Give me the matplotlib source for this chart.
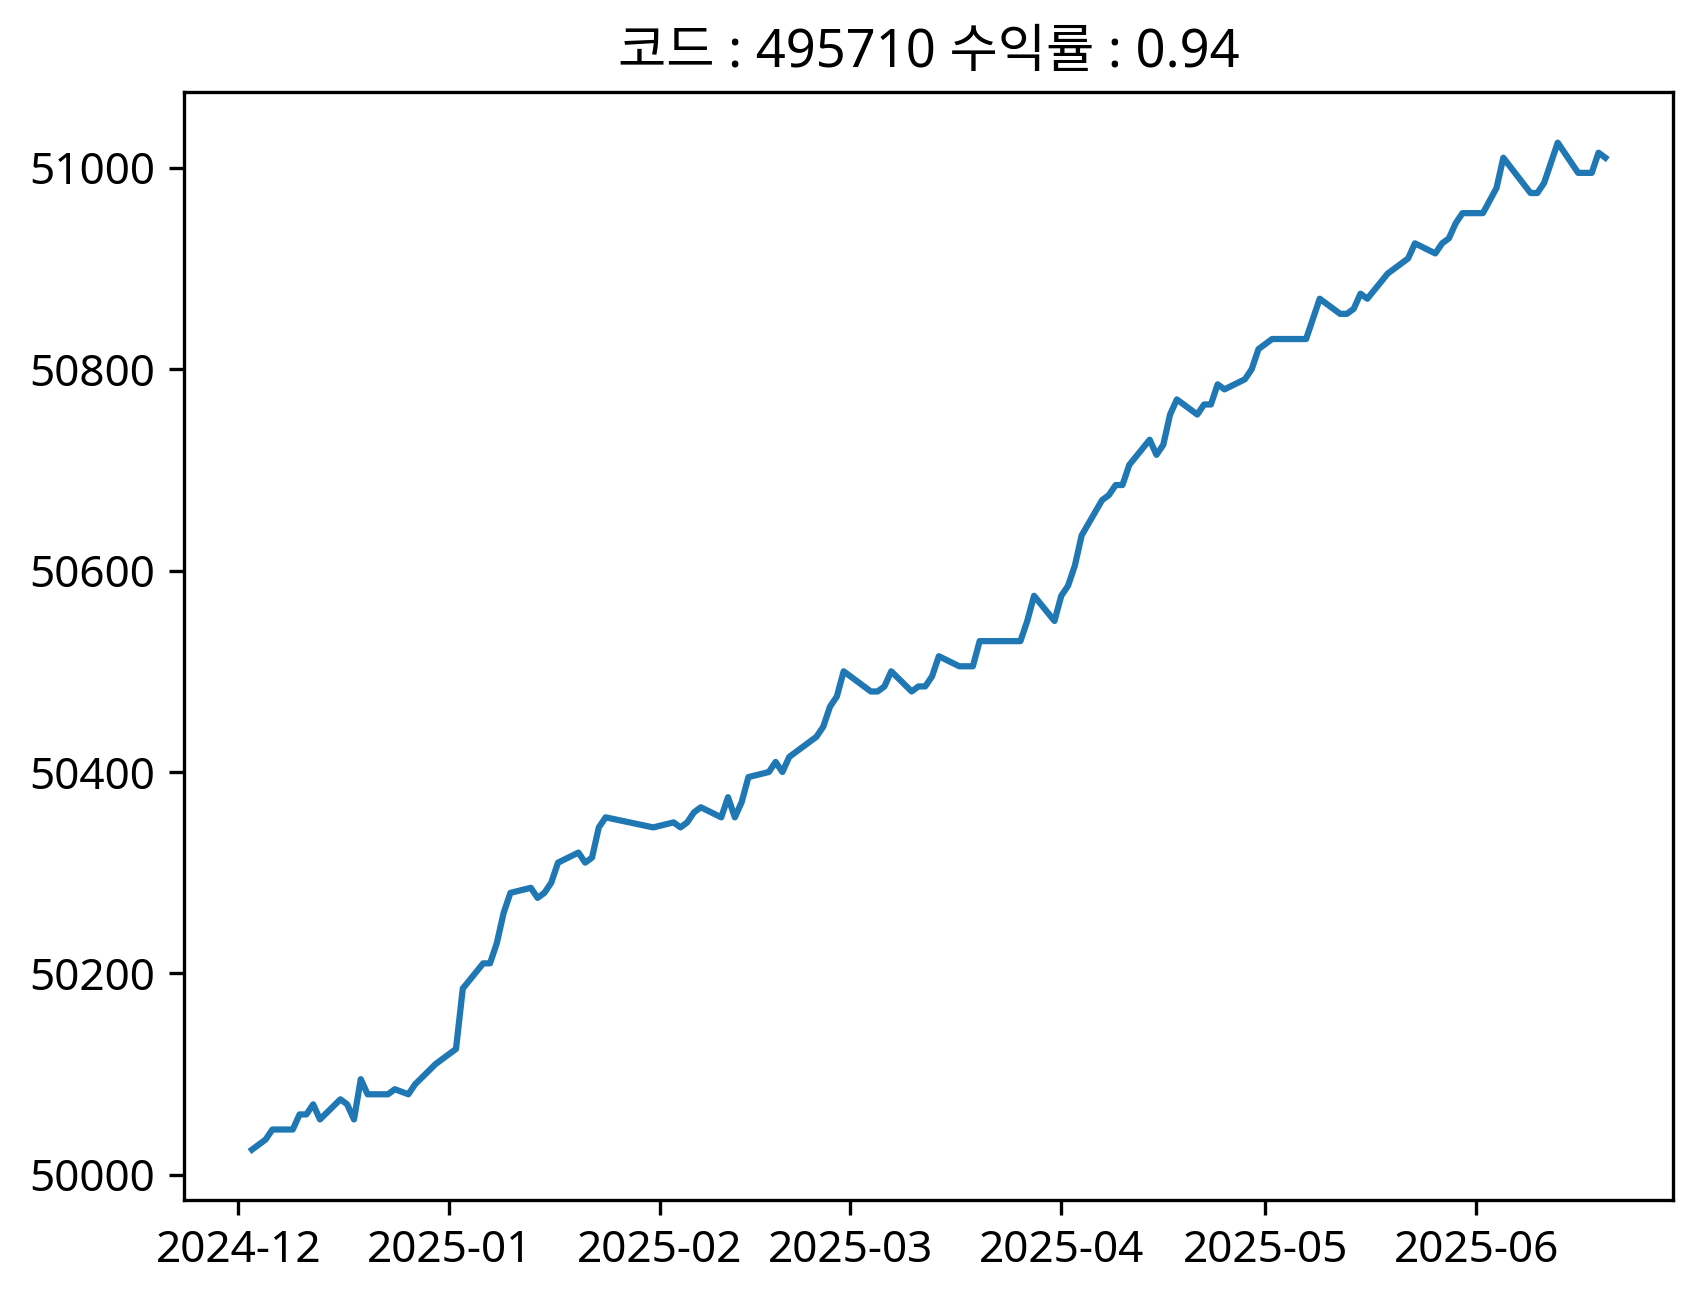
import numpy as np
import matplotlib
matplotlib.use("Agg")
import matplotlib.pyplot as plt
import matplotlib.dates as mdates

plt.rcParams['font.family'] = ['Noto Sans', 'Noto Sans CJK KR', 'DejaVu Sans']
plt.rcParams['xtick.labelsize'] = 10.6
plt.rcParams['ytick.labelsize'] = 10.6

CODE = "495710"
RET = 0.94

# trading days and price
dates = [
    "2024-12-03", "2024-12-04", "2024-12-05", "2024-12-06", "2024-12-09", "2024-12-10",
    "2024-12-11", "2024-12-12", "2024-12-13", "2024-12-16", "2024-12-17", "2024-12-18",
    "2024-12-19", "2024-12-20", "2024-12-23", "2024-12-24", "2024-12-26", "2024-12-27",
    "2024-12-30",
    "2025-01-02", "2025-01-03", "2025-01-06", "2025-01-07", "2025-01-08", "2025-01-09",
    "2025-01-10", "2025-01-13", "2025-01-14", "2025-01-15", "2025-01-16", "2025-01-17",
    "2025-01-20", "2025-01-21", "2025-01-22", "2025-01-23", "2025-01-24", "2025-01-31",
    "2025-02-03", "2025-02-04", "2025-02-05", "2025-02-06", "2025-02-07", "2025-02-10",
    "2025-02-11", "2025-02-12", "2025-02-13", "2025-02-14", "2025-02-17", "2025-02-18",
    "2025-02-19", "2025-02-20", "2025-02-21", "2025-02-24", "2025-02-25", "2025-02-26",
    "2025-02-27", "2025-02-28",
    "2025-03-04", "2025-03-05", "2025-03-06", "2025-03-07", "2025-03-10", "2025-03-11",
    "2025-03-12", "2025-03-13", "2025-03-14", "2025-03-17", "2025-03-18", "2025-03-19",
    "2025-03-20", "2025-03-21", "2025-03-24", "2025-03-25", "2025-03-26", "2025-03-27",
    "2025-03-28", "2025-03-31",
    "2025-04-01", "2025-04-02", "2025-04-03", "2025-04-04", "2025-04-07", "2025-04-08",
    "2025-04-09", "2025-04-10", "2025-04-11", "2025-04-14", "2025-04-15", "2025-04-16",
    "2025-04-17", "2025-04-18", "2025-04-21", "2025-04-22", "2025-04-23", "2025-04-24",
    "2025-04-25", "2025-04-28", "2025-04-29", "2025-04-30",
    "2025-05-02", "2025-05-07", "2025-05-08", "2025-05-09", "2025-05-12", "2025-05-13",
    "2025-05-14", "2025-05-15", "2025-05-16", "2025-05-19", "2025-05-20", "2025-05-21",
    "2025-05-22", "2025-05-23", "2025-05-26", "2025-05-27", "2025-05-28", "2025-05-29",
    "2025-05-30",
    "2025-06-02", "2025-06-04", "2025-06-05", "2025-06-09", "2025-06-10", "2025-06-11",
    "2025-06-12", "2025-06-13", "2025-06-16", "2025-06-17", "2025-06-18", "2025-06-19",
    "2025-06-20",
]
prices = [
    50025, 50030, 50035, 50045, 50045, 50060,
    50060, 50070, 50055, 50075, 50070, 50055,
    50095, 50080, 50080, 50085, 50080, 50090,
    50110,
    50125, 50185, 50210, 50210, 50230, 50260,
    50280, 50285, 50275, 50280, 50290, 50310,
    50320, 50310, 50315, 50345, 50355, 50345,
    50350, 50345, 50350, 50360, 50365, 50355,
    50375, 50355, 50370, 50395, 50400, 50410,
    50400, 50415, 50420, 50435, 50445, 50465,
    50475, 50500,
    50480, 50480, 50485, 50500, 50480, 50485,
    50485, 50495, 50515, 50505, 50505, 50505,
    50530, 50530, 50530, 50530, 50530, 50550,
    50575, 50550,
    50575, 50585, 50605, 50635, 50670, 50675,
    50685, 50685, 50705, 50730, 50715, 50725,
    50755, 50770, 50755, 50765, 50765, 50785,
    50780, 50790, 50800, 50820,
    50830, 50830, 50850, 50870, 50855, 50855,
    50860, 50875, 50870, 50895, 50900, 50905,
    50910, 50925, 50915, 50925, 50930, 50945,
    50955,
    50955, 50980, 51010, 50975, 50975, 50985,
    51005, 51025, 50995, 50995, 50995, 51015,
    51010,
]

x = np.array(dates, dtype="datetime64[D]")
y = np.array(prices)

W, H = 1703, 1300
fig = plt.figure(figsize=(W / 300, H / 300), dpi=300)
ax = fig.add_axes([184.3 / W, 100 / H, 1488.7 / W, 1107.7 / H])

ax.plot(x, y)
ax.set_title(f"코드 : {CODE} 수익률 : {RET}", fontsize=12.6)

ax.xaxis.set_major_locator(mdates.MonthLocator())
ax.xaxis.set_major_formatter(mdates.DateFormatter("%Y-%m"))

fig.savefig("out.png", dpi=300)
